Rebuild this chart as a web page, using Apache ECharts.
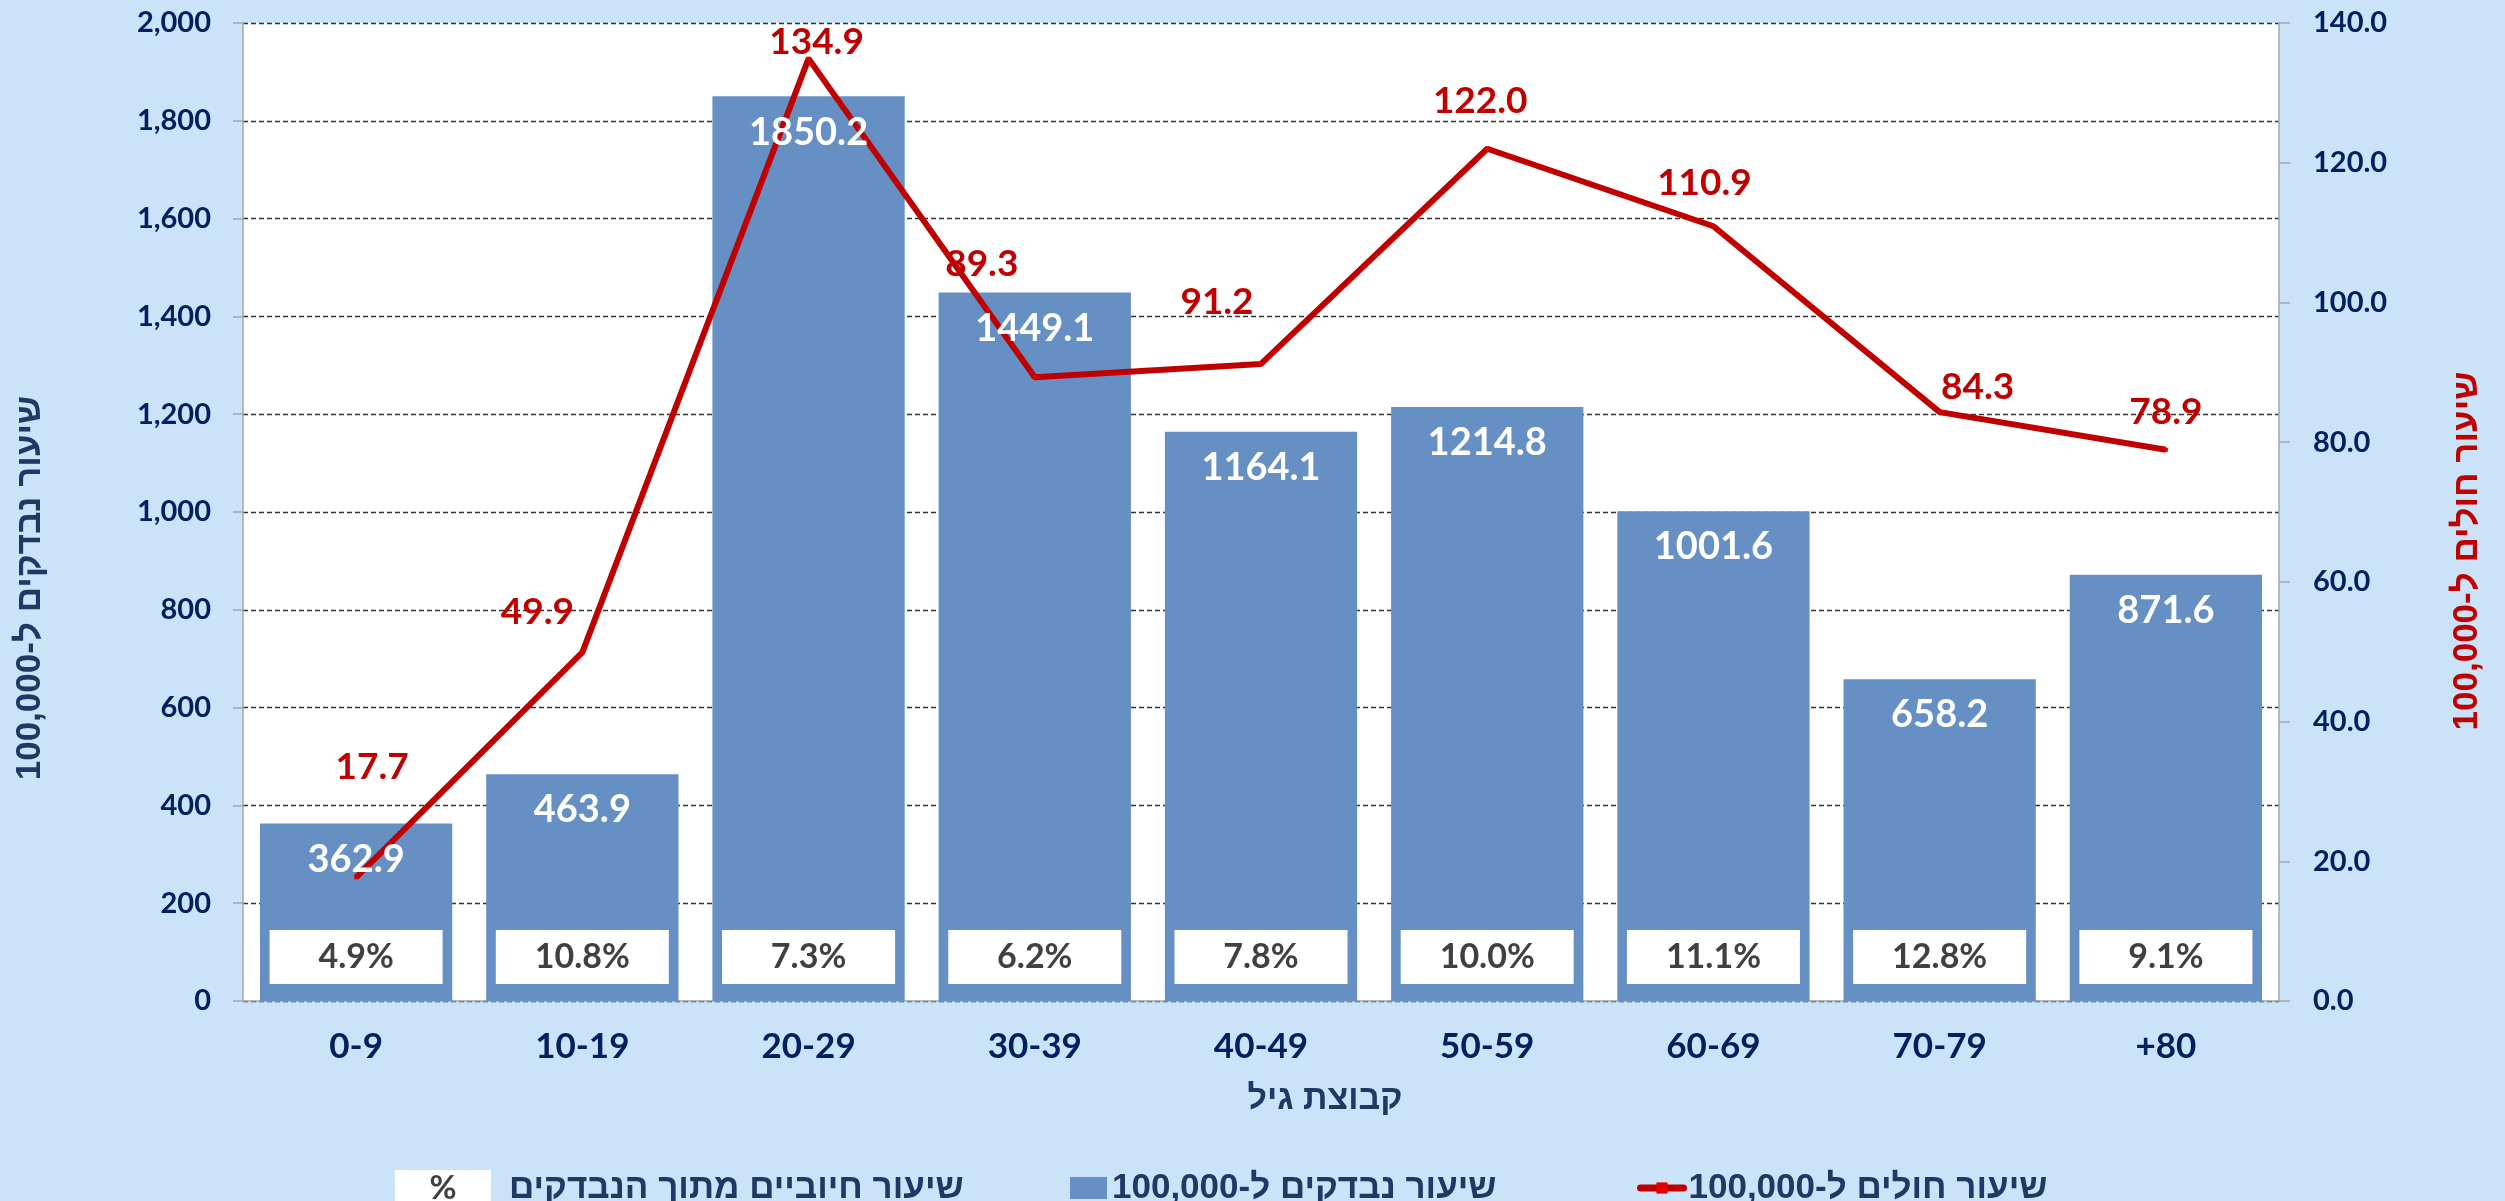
<!DOCTYPE html>
<html>
<head>
<meta charset="utf-8">
<script src="https://cdn.jsdelivr.net/npm/echarts@6/dist/echarts.min.js"></script>
<style>
html,body{margin:0;padding:0;background:#CAE3F8;}
#chart{width:2505px;height:1201px;}
</style>
</head>
<body>
<div id="chart"></div>
<script>
// ---- data ----
const categories = ['0-9', '10-19', '20-29', '30-39', '40-49', '50-59', '60-69', '70-79', '+80'];
const testsPer100k = [362.9, 463.9, 1850.2, 1449.1, 1164.1, 1214.8, 1001.6, 658.2, 871.6];
const casesPer100k = [17.7, 49.9, 134.9, 89.3, 91.2, 122.0, 110.9, 84.3, 78.9];
const positiveRate = [4.9, 10.8, 7.3, 6.2, 7.8, 10.0, 11.1, 12.8, 9.1];
const leftTicks = { min: 0, max: 2000, interval: 200 };
const rightTicks = { min: 0, max: 140, interval: 20 };

const nameTests = 'שיעור נבדקים ל-100,000';
const nameCases = 'שיעור חולים ל-100,000';
const namePositive = 'שיעור חיוביים מתוך הנבדקים';
const nameX = 'קבוצת גיל';

// ---- layout / style (not data) ----
const caseLabelOffsets = [[16,-110],[-45,-40],[8,-17],[-53,-113],[-44,-62],[-7,-48],[-9,-43],[38,-25],[0,-38]];
const NAVY = '#002060', SLATE = '#1F3864', RED = '#C00000', BAR = '#6690C4';
const NUMF = 'Lato, "Open Sans", sans-serif';
const HEBF = '"Liberation Sans", Arial, "DejaVu Sans", sans-serif';

const chart = echarts.init(document.getElementById('chart'), null, { renderer: 'canvas' });

const legendText = { fontFamily: HEBF, fontWeight: 'bold', fontSize: 35, color: SLATE, lineHeight: 36 };

chart.setOption({
  backgroundColor: '#CAE3F8',
  animation: false,
  grid: { left: 243, right: 226, top: 23, bottom: 200, show: true, backgroundColor: '#FFFFFF', borderWidth: 0, containLabel: false },
  legend: [
    {
      data: [namePositive], left: 385, top: 1165, itemWidth: 0, itemHeight: 0, icon: 'rect',
      selectedMode: false,
      formatter: n => '{b|%}{t|' + n + '}',
      textStyle: Object.assign({}, legendText, {
        rich: {
          b: { backgroundColor: '#FFFFFF', width: 96, height: 36, lineHeight: 36, align: 'center', fontFamily: NUMF, fontWeight: 'bold', fontSize: 33, color: '#404040' },
          t: Object.assign({}, legendText, { padding: [0, 0, 0, 18] })
        }
      })
    },
    { data: [nameTests], left: 1065, top: 1165, itemWidth: 37, itemHeight: 22, icon: 'rect', selectedMode: false, textStyle: legendText },
    { data: [nameCases], left: 1632, top: 1165, itemWidth: 43, itemHeight: 14, selectedMode: false, textStyle: legendText,
      lineStyle: { width: 7, cap: 'round' } }
  ],
  xAxis: {
    type: 'category', data: categories,
    name: nameX, nameLocation: 'middle', nameGap: 99,
    nameTextStyle: { fontFamily: HEBF, fontWeight: 'bold', fontSize: 34, color: SLATE, align: 'center', verticalAlign: 'middle', padding: [0, 0, 0, 128] },
    axisLine: { lineStyle: { color: '#A6A6A6', width: 1.5 } },
    axisTick: { alignWithLabel: true, length: 9, lineStyle: { color: '#A6A6A6', width: 1.5 } },
    axisLabel: { margin: 28, fontFamily: NUMF, fontWeight: 'bold', fontSize: 35, color: NAVY },
    splitLine: { show: false }
  },
  yAxis: [
    {
      type: 'value', position: 'left', min: leftTicks.min, max: leftTicks.max, interval: leftTicks.interval,
      name: nameTests, nameLocation: 'middle', nameGap: 213, nameRotate: 90,
      nameTextStyle: { fontFamily: HEBF, fontWeight: 'bold', fontSize: 35, color: SLATE, align: 'center', verticalAlign: 'middle', padding: [0, 152, 0, 0] },
      axisLine: { show: true, lineStyle: { color: '#A6A6A6', width: 1.5 } },
      axisTick: { show: true, length: 10, lineStyle: { color: '#A6A6A6', width: 1.5 } },
      axisLabel: { margin: 32, fontFamily: NUMF, fontWeight: 'bold', fontSize: 29, color: NAVY,
        formatter: v => v.toLocaleString('en-US') },
      splitLine: { show: true, lineStyle: { color: '#333333', width: 1.3, type: [5, 3] } }
    },
    {
      type: 'value', position: 'right', min: rightTicks.min, max: rightTicks.max, interval: rightTicks.interval,
      name: nameCases, nameLocation: 'middle', nameGap: 188, nameRotate: 90,
      nameTextStyle: { fontFamily: HEBF, fontWeight: 'bold', fontSize: 35, color: RED, align: 'center', verticalAlign: 'middle', padding: [0, 78, 0, 0] },
      axisLine: { show: true, lineStyle: { color: '#A6A6A6', width: 1.5 } },
      axisTick: { show: true, length: 11, lineStyle: { color: '#A6A6A6', width: 1.5 } },
      axisLabel: { margin: 34, fontFamily: NUMF, fontWeight: 'bold', fontSize: 29, color: NAVY,
        formatter: v => v.toFixed(1) },
      splitLine: { show: false }
    }
  ],
  series: [
    {
      name: nameTests, type: 'bar', yAxisIndex: 0, data: testsPer100k, barWidth: '85%', z: 2,
      itemStyle: { color: BAR }
    },
    {
      name: nameCases, type: 'line', yAxisIndex: 1, z: 3,
      data: casesPer100k.map((v, i) => ({
        value: v,
        label: { offset: caseLabelOffsets[i] }
      })),
      symbol: 'rect', symbolSize: 4, showSymbol: true,
      itemStyle: { color: '#E00000' },
      lineStyle: { color: RED, width: 6 },
      label: {
        show: true, position: 'inside', align: 'center', verticalAlign: 'middle',
        fontFamily: NUMF, fontWeight: 'bold', fontSize: 37, color: RED,
        formatter: p => casesPer100k[p.dataIndex].toFixed(1)
      }
    },
    {
      name: 'tests-labels', type: 'bar', yAxisIndex: 0, data: testsPer100k, barWidth: '85%', barGap: '-100%', z: 4,
      silent: true, itemStyle: { color: 'rgba(0,0,0,0)' },
      label: {
        show: true, position: 'insideTop', distance: 16,
        fontFamily: NUMF, fontWeight: 'bold', fontSize: 38, lineHeight: 40, color: '#FFFFFF',
        formatter: p => testsPer100k[p.dataIndex].toFixed(1)
      }
    },
    {
      name: namePositive, type: 'bar', yAxisIndex: 0, data: testsPer100k, barWidth: '85%', barGap: '-100%', z: 4,
      silent: true, itemStyle: { color: 'rgba(0,0,0,0)' },
      label: {
        show: true, position: 'insideBottom', distance: 44,
        backgroundColor: '#FFFFFF', width: 173, height: 54, lineHeight: 54, align: 'center', verticalAlign: 'middle',
        fontFamily: NUMF, fontWeight: 'bold', fontSize: 34, color: '#404040',
        formatter: p => positiveRate[p.dataIndex].toFixed(1) + '%'
      }
    }
  ]
});
</script>
</body>
</html>
